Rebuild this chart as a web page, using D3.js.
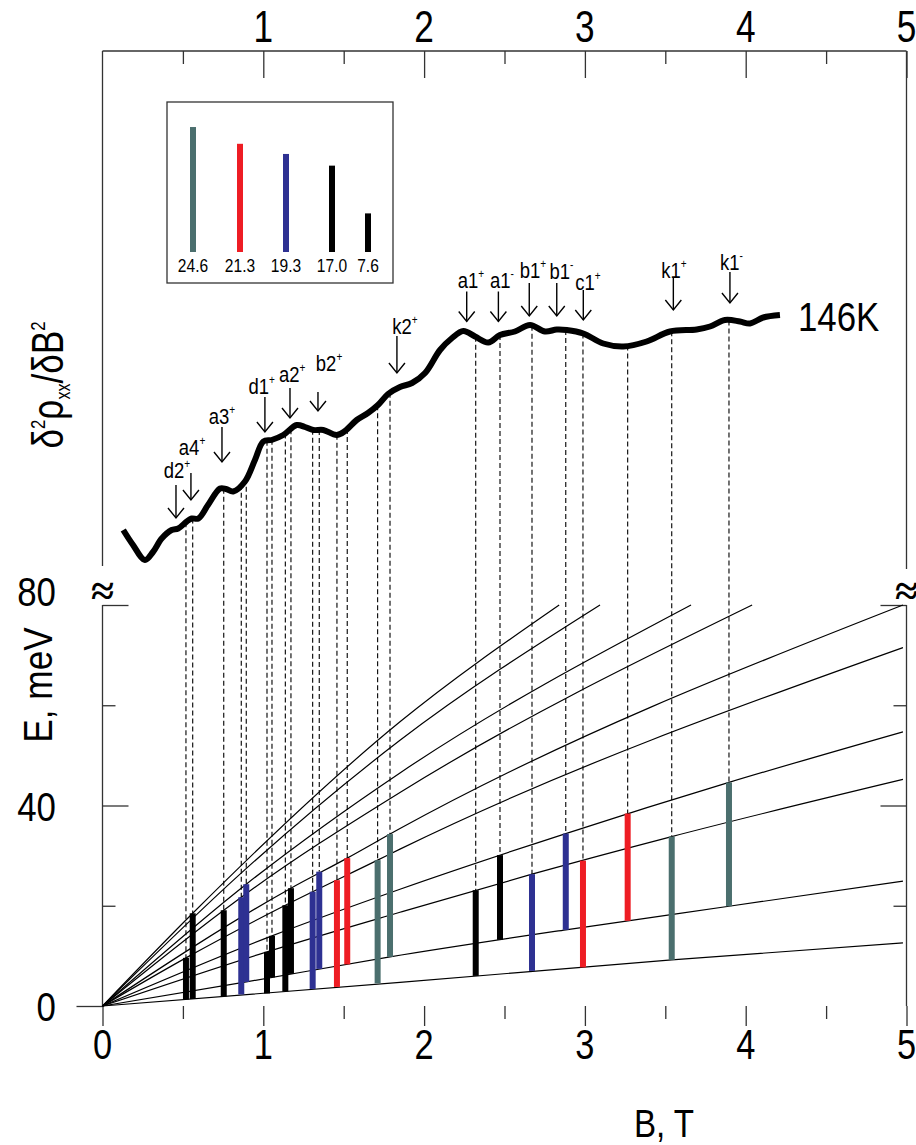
<!DOCTYPE html>
<html>
<head>
<meta charset="utf-8">
<script src="https://cdn.jsdelivr.net/npm/d3@7"></script>
<style>
  body { margin: 0; background: #fff; }
  svg { display: block; }
  text { font-family: "Liberation Sans", Arial, sans-serif; fill: #000; }
</style>
</head>
<body>
<svg width="916" height="1145"></svg>
<script>
// ---- data ----
// energy levels E(B): one array of [B, E] points per level
var level1 = [[0, 0], [0.561, 18.5], [1.85, 56.7], [2.84, 80]];
var level2 = [[0, 0], [0.9, 27.6], [1.85, 53.0], [3.094, 80]];
var level3 = [[0, 0], [0.894, 24.3], [1.85, 46.5], [3.66, 80]];
var level4 = [[0, 0], [0.754, 19.1], [0.863, 21.7], [1.85, 42.6], [4.04, 80]];
var level5 = [[0, 0], [1.172, 23.5], [1.522, 29.5], [1.85, 35.4], [4.978, 80]];
var level6 = [[0, 0], [0.519, 9.6], [1.137, 20.1], [1.711, 29.1], [1.85, 31.3], [4.978, 71.5]];
var level7 = [[0, 0], [1.054, 14.0], [1.85, 23.3], [2.881, 34.4], [3.896, 44.6], [4.978, 54.7]];
var level8 = [[0, 0], [1.023, 10.8], [1.85, 18.7], [2.671, 26.3], [3.54, 33.8], [4.978, 45.2]];
var level9 = [[0, 0], [0.894, 4.8], [1.788, 9.8], [2.881, 15.2], [3.896, 19.9], [4.978, 24.9]];
var level10 = [[0, 0], [1.85, 4.7], [3.54, 9.2], [4.978, 12.6]];
var levels = [level1, level2, level3, level4, level5, level6, level7, level8, level9, level10];

// transitions: field B, lower and upper energy, type (index into legend)
var barB    = [0.519, 0.561, 0.754, 0.863, 0.894, 1.023, 1.054, 1.137, 1.172, 1.307, 1.348, 1.458, 1.522, 1.711, 1.788,
               2.321, 2.472, 2.671, 2.881, 2.988, 3.266, 3.540, 3.896];
var barLow  = [1.3, 1.4, 1.9, 2.3, 4.8, 2.5, 5.7, 2.9, 6.4, 3.4, 7.4, 3.8, 8.3, 4.5, 9.8,
               6.0, 13.2, 7.0, 15.2, 7.7, 17.0, 9.2, 19.9];
var barHigh = [9.6, 18.5, 19.1, 21.7, 24.3, 10.8, 14.0, 20.1, 23.5, 22.8, 26.8, 25.1, 29.5, 29.1, 34.3,
               23.1, 30.1, 26.3, 34.4, 29.0, 38.4, 33.8, 44.6];
var barType = [4, 3, 3, 2, 2, 4, 4, 3, 3, 2, 2, 1, 1, 0, 0,
               3, 3, 2, 2, 1, 1, 0, 0];

// legend: transition energies (meV)
var legendValues = [24.6, 21.3, 19.3, 17.0, 7.6];
var legendLabels = ["24.6", "21.3", "19.3", "17.0", "7.6"];
var typeColors = ["#4b6f6e", "#ee1d24", "#2e3192", "#000000", "#000000"];

// d2rho/dB2 trace at 146K (arbitrary units)
var traceB = [0.129, 0.190, 0.264, 0.314, 0.368, 0.430, 0.471, 0.524, 0.555, 0.596, 0.656, 0.731, 0.768, 0.813,
              0.886, 0.948, 1.000, 1.052, 1.124, 1.208, 1.259, 1.311, 1.373, 1.456, 1.508, 1.581, 1.651, 1.713,
              1.776, 1.850, 1.925, 2.006, 2.099, 2.174, 2.244, 2.317, 2.399, 2.472, 2.565, 2.659, 2.752, 2.825,
              2.887, 2.990, 3.114, 3.239, 3.384, 3.529, 3.695, 3.778, 3.871, 3.964, 4.027, 4.109, 4.213];
var traceS = [14.0, 11.0, 8.0, 9.6, 12.3, 14.0, 14.3, 15.7, 16.3, 16.3, 19.0, 22.3, 22.2, 21.7,
              23.7, 28.0, 31.7, 32.0, 33.0, 35.0, 34.6, 34.0, 34.0, 33.0, 33.8, 36.0, 37.4, 39.0,
              41.2, 42.6, 43.4, 45.4, 50.0, 52.4, 53.8, 52.7, 51.5, 53.0, 53.7, 55.0, 53.7, 54.1,
              54.0, 53.3, 51.3, 50.7, 51.7, 53.7, 54.1, 54.7, 56.0, 55.7, 55.3, 56.5, 57.0];

// arrows on the trace (tip, tail and label baseline in trace units, label centre in B)
var arrowName   = ["d2", "a4", "a3", "d1", "a2", "b2", "k2", "a1", "a1", "b1", "b1", "c1", "k1", "k1"];
var arrowSign   = ["+", "+", "+", "+", "+", "+", "+", "+", "-", "+", "-", "+", "+", "-"];
var arrowB      = [0.457, 0.550, 0.743, 1.010, 1.166, 1.340, 1.831, 2.265, 2.462, 2.654, 2.825, 2.990, 3.550, 3.902];
var arrowTip    = [16.4, 20.0, 27.6, 33.6, 36.4, 37.8, 45.4, 55.7, 55.7, 56.8, 56.8, 56.0, 58.0, 59.4];
var arrowTail   = [23.0, 25.4, 34.6, 40.6, 42.4, 41.6, 52.8, 61.7, 61.7, 63.4, 63.4, 62.0, 64.4, 65.6];
var arrowLabel  = [24.4, 29.0, 35.2, 41.2, 43.6, 45.8, 53.2, 62.4, 62.4, 64.4, 64.2, 62.0, 64.4, 66.0];
var arrowLabelB = [0.463, 0.557, 0.743, 0.990, 1.180, 1.409, 1.881, 2.292, 2.484, 2.677, 2.854, 3.019, 3.554, 3.912];

var xTicks = [1, 2, 3, 4, 5];
var xMinor = [0.5, 1.5, 2.5, 3.5, 4.5];
var eTicksMajor = [40, 80];
var eTicksMinor = [20, 60];

// ---- drawing ----
var SX = 0.8; // condensed look of the original lettering
var svg = d3.select("svg");
var g = svg.append("g");

var x = d3.scaleLinear().domain([0, 5]).range([102.5, 906.5]);
var yE = d3.scaleLinear().domain([0, 80]).range([1006, 605]);
var yS = d3.scaleLinear().domain([0, 110]).range([600, 50]);
var yLeg = d3.scaleLinear().domain([0, 25]).range([252, 125]);

function label(x0, y0, s, size, anchor, rot, sx) {
    var t = g.append("g")
        .attr("transform", "translate(" + x0 + "," + y0 + ")" + (rot ? " rotate(" + rot + ")" : "") + " scale(" + (sx || SX) + ",1)")
        .append("text")
        .attr("font-size", size)
        .attr("text-anchor", anchor || "middle");
    if (s !== null) t.text(s);
    return t;
}

var frame = "#333";

// frame lines
g.append("line").attr("x1", x(0)).attr("x2", x(5)).attr("y1", 51).attr("y2", 51).attr("stroke", frame).attr("stroke-width", 1.3);
g.append("line").attr("x1", x(0)).attr("x2", x(0)).attr("y1", 51).attr("y2", 566).attr("stroke", frame).attr("stroke-width", 1.3);
g.append("line").attr("x1", x(5)).attr("x2", x(5)).attr("y1", 51).attr("y2", 569).attr("stroke", frame).attr("stroke-width", 1.3);
g.append("line").attr("x1", x(0)).attr("x2", x(0)).attr("y1", yE(80)).attr("y2", yE(0)).attr("stroke", frame).attr("stroke-width", 1.3);
g.append("line").attr("x1", x(5)).attr("x2", x(5)).attr("y1", yE(80)).attr("y2", yE(0)).attr("stroke", frame).attr("stroke-width", 1.3);

function styleAxis(sel) {
    sel.select(".domain").remove();
    sel.selectAll(".tick line").attr("stroke", frame).attr("stroke-width", 1.3);
    sel.selectAll(".tick text").remove();
}

// top axis
g.append("g").attr("transform", "translate(0,51)")
    .call(d3.axisTop(x).tickValues(xTicks).tickSize(-27)).call(styleAxis);
g.append("g").attr("transform", "translate(0,51)")
    .call(d3.axisTop(x).tickValues(xMinor).tickSize(-13)).call(styleAxis);
xTicks.forEach(function(v) { label(x(v), 42, String(v), 44); });

// bottom axis
g.append("g").attr("transform", "translate(0," + yE(0) + ")")
    .call(d3.axisBottom(x).tickValues([0].concat(xTicks)).tickSize(20)).call(styleAxis);
g.append("g").attr("transform", "translate(0," + yE(0) + ")")
    .call(d3.axisBottom(x).tickValues(xMinor).tickSize(13)).call(styleAxis);
[0].concat(xTicks).forEach(function(v) { label(x(v), 1059, String(v), 43); });
label(664, 1137, "B, T", 39, "middle", 0, 0.85);

// left / right energy axis
g.append("g").attr("transform", "translate(" + x(0) + ",0)")
    .call(d3.axisLeft(yE).tickValues(eTicksMajor).tickSize(-26)).call(styleAxis);
g.append("g").attr("transform", "translate(" + x(0) + ",0)")
    .call(d3.axisLeft(yE).tickValues(eTicksMinor).tickSize(-13)).call(styleAxis);
g.append("g").attr("transform", "translate(" + x(0) + ",0)")
    .call(d3.axisLeft(yE).tickValues([0]).tickSize(26)).call(styleAxis);
g.append("g").attr("transform", "translate(" + x(5) + ",0)")
    .call(d3.axisRight(yE).tickValues(eTicksMajor).tickSize(-26)).call(styleAxis);
g.append("g").attr("transform", "translate(" + x(5) + ",0)")
    .call(d3.axisRight(yE).tickValues(eTicksMinor).tickSize(-13)).call(styleAxis);
[0, 40, 80].forEach(function(v) {
    label(56, yE(v) + (v === 80 ? 1 : 15), String(v), 41, "end", 0, 0.85);
});
label(52, 685, "E, meV", 40, "middle", -90, 0.88);

// axis break marks
[0, 5].forEach(function(v) {
    g.append("text").attr("x", x(v)).attr("y", 605)
        .attr("text-anchor", "middle")
        .attr("font-size", 42).attr("font-weight", "bold")
        .style("font-family", "'Liberation Serif', serif")
        .text("\u2248");
});

// y title of upper panel
var yt = label(63, 385, null, 44, "middle", -90);
yt.append("tspan").text("\u03b4");
yt.append("tspan").attr("font-size", 21).attr("dy", -18).text("2");
yt.append("tspan").attr("dy", 18).text("\u03c1");
yt.append("tspan").attr("font-size", 20).attr("dy", 7).text("xx");
yt.append("tspan").attr("dy", -7).text("/\u03b4B");
yt.append("tspan").attr("font-size", 21).attr("dy", -18).text("2");

// energy levels
var line = d3.line()
    .x(function(d) { return x(d[0]); })
    .y(function(d) { return yE(d[1]); })
    .curve(d3.curveMonotoneX);
g.selectAll(".level").data(levels).enter().append("path")
    .attr("class", "level")
    .attr("d", line)
    .attr("fill", "none")
    .attr("stroke", "#000")
    .attr("stroke-width", 1.2);

// trace and the dashed guides
var trace = traceB.map(function(b, i) { return [b, traceS[i]]; });
function traceAt(b) {
    var i = d3.bisectLeft(traceB, b);
    if (i <= 0) return traceS[0];
    if (i >= traceB.length) return traceS[traceS.length - 1];
    var t = (b - traceB[i - 1]) / (traceB[i] - traceB[i - 1]);
    return traceS[i - 1] + t * (traceS[i] - traceS[i - 1]);
}

g.selectAll(".guide").data(barB).enter().append("line")
    .attr("class", "guide")
    .attr("x1", function(d) { return x(d); })
    .attr("x2", function(d) { return x(d); })
    .attr("y1", function(d) { return yS(traceAt(d)); })
    .attr("y2", function(d, i) { return yE(barHigh[i]); })
    .attr("stroke", "#000")
    .attr("stroke-width", 1.1)
    .attr("stroke-dasharray", "5,3");

g.selectAll(".bar").data(barB).enter().append("rect")
    .attr("class", "bar")
    .attr("x", function(d) { return x(d) - 3; })
    .attr("width", 6)
    .attr("y", function(d, i) { return yE(barHigh[i]); })
    .attr("height", function(d, i) { return yE(barLow[i]) - yE(barHigh[i]); })
    .attr("fill", function(d, i) { return typeColors[barType[i]]; });

var traceLine = d3.line()
    .x(function(d) { return x(d[0]); })
    .y(function(d) { return yS(d[1]); })
    .curve(d3.curveCatmullRom.alpha(0.5));
g.append("path").datum(trace)
    .attr("d", traceLine)
    .attr("fill", "none")
    .attr("stroke", "#000")
    .attr("stroke-width", 6)
    .attr("stroke-linejoin", "round")
    .attr("stroke-linecap", "butt");
label(798, 331, "146K", 41, "start", 0, 0.85);

// arrows
arrowB.forEach(function(b, i) {
    var ax = x(b), top = yS(arrowTail[i]), tip = yS(arrowTip[i]);
    g.append("line").attr("x1", ax).attr("x2", ax).attr("y1", top).attr("y2", tip)
        .attr("stroke", "#000").attr("stroke-width", 1.4);
    g.append("path")
        .attr("d", "M" + (ax - 8) + "," + (tip - 10) + "L" + ax + "," + tip + "L" + (ax + 8) + "," + (tip - 10))
        .attr("fill", "none").attr("stroke", "#000").attr("stroke-width", 1.4);
    var t = label(x(arrowLabelB[i]), yS(arrowLabel[i]), null, 22, "middle", 0, 0.84);
    t.append("tspan").text(arrowName[i]);
    t.append("tspan").attr("font-size", 12).attr("dy", -10).text(arrowSign[i]);
});

// legend inset
g.append("rect").attr("x", 167).attr("y", 102).attr("width", 226).attr("height", 181)
    .attr("fill", "none").attr("stroke", frame).attr("stroke-width", 1.3);
var legPos = [193, 240, 286, 332, 368];
legendValues.forEach(function(v, i) {
    g.append("rect")
        .attr("x", legPos[i] - 3).attr("width", 6)
        .attr("y", yLeg(v)).attr("height", yLeg(0) - yLeg(v))
        .attr("fill", typeColors[i]);
    label(legPos[i], 272, legendLabels[i], 19, "middle", 0, 0.82);
});
</script>
</body>
</html>
